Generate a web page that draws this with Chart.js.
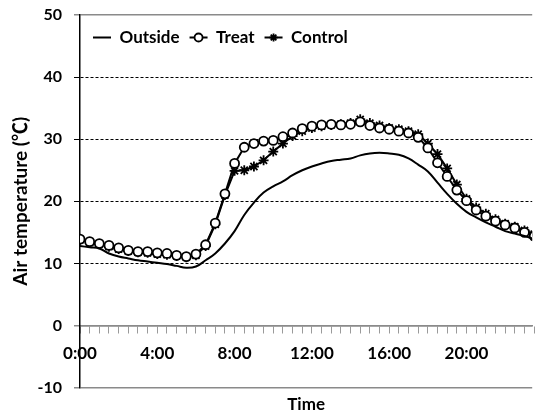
<!DOCTYPE html>
<html>
<head>
<meta charset="utf-8">
<script src="https://cdn.jsdelivr.net/npm/chart.js@4.4.1/dist/chart.umd.min.js"></script>
<style>
  html, body { margin: 0; padding: 0; background: #fff; }
  #wrap { width: 539px; height: 420px; }
</style>
</head>
<body>
<div id="wrap"><canvas id="chart" width="539" height="420"></canvas></div>
<script>
// time of day in hours, every 30 min
const hours = [0, 0.5, 1, 1.5, 2, 2.5, 3, 3.5, 4, 4.5, 5, 5.5, 6, 6.5, 7, 7.5, 8, 8.5, 9, 9.5,
  10, 10.5, 11, 11.5, 12, 12.5, 13, 13.5, 14, 14.5, 15, 15.5, 16, 16.5, 17, 17.5, 18, 18.5, 19, 19.5,
  20, 20.5, 21, 21.5, 22, 22.5, 23, 23.5];

const outside = [12.8, 12.6, 12.4, 11.6, 11.1, 10.8, 10.5, 10.3, 10.1, 9.9, 9.6, 9.3, 9.5, 10.5, 11.6, 13.2,
  15.2, 17.8, 19.8, 21.4, 22.4, 23.2, 24.2, 25.0, 25.6, 26.1, 26.5, 26.7, 26.9, 27.4, 27.7, 27.8,
  27.7, 27.5, 26.9, 25.9, 24.8, 23.0, 21.2, 19.6, 18.3, 17.4, 16.6, 15.9, 15.2, 14.8, 14.4, 13.9];

const treat = [13.9, 13.5, 13.2, 12.9, 12.5, 12.1, 11.9, 11.9, 11.7, 11.6, 11.3, 11.1, 11.5, 13.0, 16.5, 21.2,
  26.1, 28.7, 29.3, 29.7, 29.8, 30.4, 31.0, 31.7, 32.1, 32.3, 32.4, 32.3, 32.4, 32.8, 32.2, 31.8,
  31.6, 31.3, 31.0, 30.3, 28.6, 26.2, 24.0, 21.8, 20.1, 18.6, 17.6, 16.8, 16.2, 15.7, 15.0, 14.4];

const control = [13.8, 13.4, 13.1, 12.7, 12.3, 12.0, 11.8, 11.7, 11.5, 11.4, 11.2, 11.0, 11.3, 12.8, 16.3, 21.0,
  24.9, 25.0, 25.6, 26.6, 28.0, 29.3, 30.5, 31.3, 31.8, 32.1, 32.3, 32.4, 32.6, 33.2, 32.6, 32.2,
  31.8, 31.6, 31.3, 30.8, 29.3, 27.6, 25.3, 22.7, 20.4, 19.0, 18.0, 17.1, 16.4, 15.9, 15.3, 14.7];

const yTicks = [-10, 0, 10, 20, 30, 40, 50];

const FONT = 'Lato, "Noto Sans CJK KR", "Liberation Sans", sans-serif';

function toPoints(values) {
  return hours.map((h, i) => ({ x: h, y: values[i] }));
}

// fixed plot box, no automatic label padding
function noPadding(scale) {
  scale.paddingTop = 0;
  scale.paddingBottom = 0;
  scale.paddingLeft = 0;
  scale.paddingRight = 0;
}

// legend sits inside the plot, in one row, with the marker on each line
const legendInside = {
  id: 'legendInside',
  afterInit(chart) {
    if (chart.legend) chart.legend.isHorizontal = () => true;
  },
  afterLayout(chart) {
    const legend = chart.legend;
    const area = chart.chartArea;
    legend.left = area.left + 3;
    legend.right = area.right;
    legend.top = area.top + 4;
    legend.bottom = legend.top + legend.height;
  },
  afterDraw(chart) {
    const legend = chart.legend;
    if (!legend || !legend.legendHitBoxes) return;
    const ctx = chart.ctx;
    const boxW = legend.options.labels.boxWidth;
    legend.legendItems.forEach((item, i) => {
      const ds = chart.data.datasets[item.datasetIndex];
      if (!ds.pointRadius) return;
      const box = legend.legendHitBoxes[i];
      ctx.save();
      ctx.strokeStyle = '#000';
      ctx.fillStyle = '#fff';
      ctx.lineWidth = 1.8;
      Chart.helpers.drawPoint(ctx, { pointStyle: ds.pointStyle, radius: 4, borderWidth: 1.8 },
        box.left + boxW / 2, box.top + box.height / 2);
      ctx.restore();
    });
  }
};

new Chart(document.getElementById('chart'), {
  type: 'line',
  data: {
    datasets: [
      {
        label: 'Outside',
        data: toPoints(outside),
        borderColor: '#000',
        backgroundColor: '#000',
        borderWidth: 2,
        pointRadius: 0,
        tension: 0.4
      },
      {
        label: 'Treat',
        data: toPoints(treat),
        borderColor: '#000',
        backgroundColor: '#fff',
        borderWidth: 2,
        pointStyle: 'circle',
        pointRadius: 4.5,
        pointBorderWidth: 1.8,
        pointBackgroundColor: '#fff',
        pointBorderColor: '#000',
        tension: 0
      },
      {
        label: 'Control',
        data: toPoints(control),
        borderColor: '#000',
        backgroundColor: '#000',
        borderWidth: 2,
        pointStyle: 'star',
        pointRadius: 5,
        pointBorderWidth: 1.8,
        pointBorderColor: '#000',
        tension: 0
      }
    ]
  },
  options: {
    responsive: false,
    animation: false,
    layout: { padding: { top: 15, right: 0, bottom: 0, left: 0 } },
    scales: {
      x: {
        type: 'linear',
        min: 0,
        max: 23.4,
        position: { y: 0 },
        afterFit(scale) { scale.height = 0; noPadding(scale); },
        afterBuildTicks(scale) { scale.ticks = hours.map(h => ({ value: h })); },
        ticks: {
          autoSkip: false,
          maxRotation: 0,
          padding: 11,
          color: '#000',
          font: { family: FONT, size: 17, weight: 'bold' },
          callback: v => (v % 4 === 0 ? v + ':00' : '')
        },
        grid: {
          drawOnChartArea: false,
          drawTicks: true,
          tickLength: 7,
          tickColor: '#9a9a9a',
          tickWidth: 1
        },
        border: { color: '#8a8a8a', width: 1.5 }
      },
      y: {
        min: -10,
        max: 50,
        afterFit(scale) { scale.width = 80; noPadding(scale); },
        afterBuildTicks(scale) { scale.ticks = yTicks.map(v => ({ value: v })); },
        ticks: {
          padding: 12,
          color: '#000',
          font: { family: FONT, size: 16, weight: 'bold' }
        },
        grid: {
          color: ctx => ([50, 0, -10].includes(ctx.tick.value) ? '#8a8a8a' : '#000'),
          tickColor: ctx => ([50, 0, -10].includes(ctx.tick.value) ? '#8a8a8a' : '#000'),
          lineWidth: ctx => ([50, 0, -10].includes(ctx.tick.value) ? 1.5 : 1),
          tickLength: 6
        },
        border: {
          color: '#000',
          width: 1.5,
          dash: ctx => (ctx.tick && [10, 20, 30, 40].includes(ctx.tick.value) ? [3, 2] : [])
        },
        title: {
          display: true,
          text: 'Air temperature (℃)',
          color: '#000',
          padding: { top: 9, bottom: 0 },
          font: { family: FONT, size: 19, weight: 'bold' }
        }
      }
    },
    plugins: {
      legend: {
        position: 'chartArea',
        align: 'start',
        labels: {
          boxWidth: 18,
          boxHeight: 2,
          padding: 10,
          color: '#000',
          font: { family: FONT, size: 17, weight: 'bold' },
          generateLabels: chart => Chart.defaults.plugins.legend.labels.generateLabels(chart)
            .map(l => Object.assign(l, { fillStyle: '#000', strokeStyle: '#000', lineWidth: 0 }))
        }
      },
      title: {
        display: true,
        position: 'bottom',
        fullSize: false,
        text: 'Time',
        color: '#000',
        padding: { top: 7, bottom: 5 },
        font: { family: FONT, size: 17, weight: 'bold' }
      },
      tooltip: { enabled: false }
    }
  },
  plugins: [legendInside]
});
</script>
</body>
</html>
